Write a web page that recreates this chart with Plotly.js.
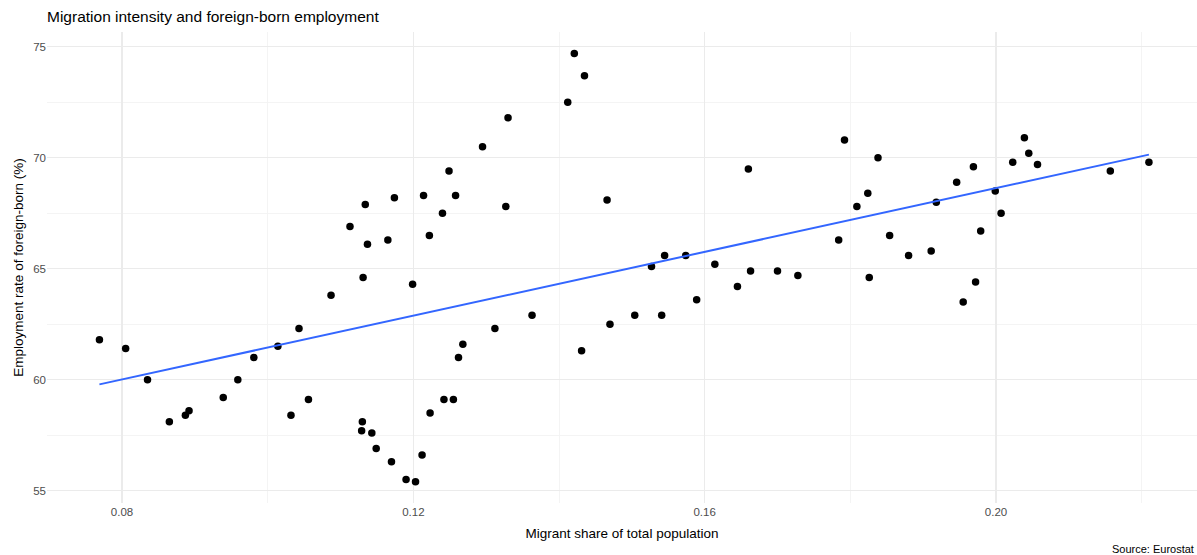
<!DOCTYPE html>
<html>
<head>
<meta charset="utf-8">
<script src="https://cdn.plot.ly/plotly-3.0.1.min.js"></script>
<style>html,body{margin:0;padding:0;background:#fff;}#chart{width:1197px;height:555px;}</style>
</head>
<body>
<div id="chart"></div>
<script>
// Migrant share of total population
const migrantShare = [
  0.0769, 0.0805, 0.0835, 0.0865, 0.0887, 0.0892, 0.0939, 0.0959, 0.0981, 0.1014,
  0.1032, 0.1043, 0.1056, 0.1087, 0.1113, 0.1129, 0.1130, 0.1131, 0.1134, 0.1137,
  0.1143, 0.1149, 0.1165, 0.1170, 0.1174, 0.1190, 0.1199, 0.1203, 0.1212, 0.1214,
  0.1222, 0.1223, 0.1240, 0.1242, 0.1249, 0.1255, 0.1258, 0.1262, 0.1268, 0.1295,
  0.1312, 0.1327, 0.1330, 0.1363, 0.1412, 0.1421, 0.1431, 0.1435, 0.1466, 0.1470,
  0.1504, 0.1527, 0.1541, 0.1545, 0.1574, 0.1589, 0.1614, 0.1645, 0.1660, 0.1663,
  0.1700, 0.1728, 0.1784, 0.1792, 0.1809, 0.1824, 0.1826, 0.1838, 0.1854, 0.1880,
  0.1911, 0.1918, 0.1946, 0.1955, 0.1969, 0.1972, 0.1979, 0.1999, 0.2007, 0.2023,
  0.2039, 0.2045, 0.2057, 0.2157, 0.2210
];
// Employment rate of foreign-born (%)
const employmentRate = [
  61.8, 61.4, 60.0, 58.1, 58.4, 58.6, 59.2, 60.0, 61.0, 61.5,
  58.4, 62.3, 59.1, 63.8, 66.9, 57.7, 58.1, 64.6, 67.9, 66.1,
  57.6, 56.9, 66.3, 56.3, 68.2, 55.5, 64.3, 55.4, 56.6, 68.3,
  66.5, 58.5, 67.5, 59.1, 69.4, 59.1, 68.3, 61.0, 61.6, 70.5,
  62.3, 67.8, 71.8, 62.9, 72.5, 74.7, 61.3, 73.7, 68.1, 62.5,
  62.9, 65.1, 62.9, 65.6, 65.6, 63.6, 65.2, 64.2, 69.5, 64.9,
  64.9, 64.7, 66.3, 70.8, 67.8, 68.4, 64.6, 70.0, 66.5, 65.6,
  65.8, 68.0, 68.9, 63.5, 69.6, 64.4, 66.7, 68.5, 67.5, 69.8,
  70.9, 70.2, 69.7, 69.4, 69.8
];
const xTickVals = [0.08, 0.12, 0.16, 0.20];
const xTickText = ["0.08", "0.12", "0.16", "0.20"];
const xMinorVals = [0.10, 0.14, 0.18, 0.22];
const yTickVals = [55, 60, 65, 70, 75];
const yTickText = ["55", "60", "65", "70", "75"];
const yMinorVals = [57.5, 62.5, 67.5, 72.5];

// Linear fit (like geom_smooth(method = "lm"))
const n = migrantShare.length;
const mx = migrantShare.reduce((a, b) => a + b, 0) / n;
const my = employmentRate.reduce((a, b) => a + b, 0) / n;
let sxy = 0, sxx = 0;
for (let i = 0; i < n; i++) {
  sxy += (migrantShare[i] - mx) * (employmentRate[i] - my);
  sxx += (migrantShare[i] - mx) ** 2;
}
const slope = sxy / sxx;
const intercept = my - slope * mx;
const xmin = Math.min(...migrantShare), xmax = Math.max(...migrantShare);
const fitX = [], fitY = [];
for (let k = 0; k <= 80; k++) {
  const xv = xmin + (xmax - xmin) * k / 80;
  fitX.push(xv);
  fitY.push(intercept + slope * xv);
}

const traces = [
  {
    x: migrantShare, y: employmentRate, type: 'scatter', mode: 'markers',
    marker: {color: '#000000', size: 7.5}, hoverinfo: 'x+y', showlegend: false
  },
  {
    x: fitX, y: fitY, type: 'scatter', mode: 'lines',
    line: {color: '#3366FF', width: 2}, hoverinfo: 'skip', showlegend: false
  }
];

const font = 'Liberation Sans, Arial, sans-serif';
const gridMajor = '#ebebeb';
const gridMinor = '#f3f3f3';
const layout = {
  width: 1197, height: 555,
  margin: {l: 47, r: 0, t: 32, b: 52},
  paper_bgcolor: '#ffffff', plot_bgcolor: '#ffffff',
  font: {family: font, color: '#1a1a1a'},
  title: {
    text: 'Migration intensity and foreign-born employment',
    x: 47 / 1197, xanchor: 'left', xref: 'container',
    y: 1 - 17 / 555, yanchor: 'middle', yref: 'container',
    font: {family: font, size: 15.5, color: '#000000'}
  },
  xaxis: {
    range: [0.0697, 0.2276],
    tickvals: xTickVals, ticktext: xTickText,
    tickfont: {family: font, size: 11.5, color: '#4d4d4d'},
    showgrid: true, gridcolor: gridMajor, gridwidth: 1.1,
    minor: {tickvals: xMinorVals, showgrid: true, gridcolor: gridMinor, gridwidth: 0.9, ticks: ''},
    zeroline: false, showline: false, ticks: '', ticklen: 0,
    title: {text: 'Migrant share of total population', standoff: 12,
      font: {family: font, size: 13.5, color: '#000000'}},
    automargin: false, fixedrange: true
  },
  yaxis: {
    range: [54.44, 75.67],
    tickvals: yTickVals, ticktext: yTickText,
    tickfont: {family: font, size: 11.5, color: '#4d4d4d'},
    showgrid: true, gridcolor: gridMajor, gridwidth: 1.1,
    minor: {tickvals: yMinorVals, showgrid: true, gridcolor: gridMinor, gridwidth: 0.9, ticks: ''},
    zeroline: false, showline: false, ticks: '', ticklen: 0,
    title: {text: 'Employment rate of foreign-born (%)', standoff: 6,
      font: {family: font, size: 13.5, color: '#000000'}},
    automargin: false, fixedrange: true
  },
  annotations: [
    {
      text: 'Source: Eurostat', xref: 'paper', yref: 'paper',
      x: 0.999, xanchor: 'right', y: -0.098, yanchor: 'middle',
      showarrow: false, font: {family: font, size: 11, color: '#000000'}
    }
  ]
};

Plotly.newPlot('chart', traces, layout, {displayModeBar: false, staticPlot: true});
</script>
</body>
</html>
